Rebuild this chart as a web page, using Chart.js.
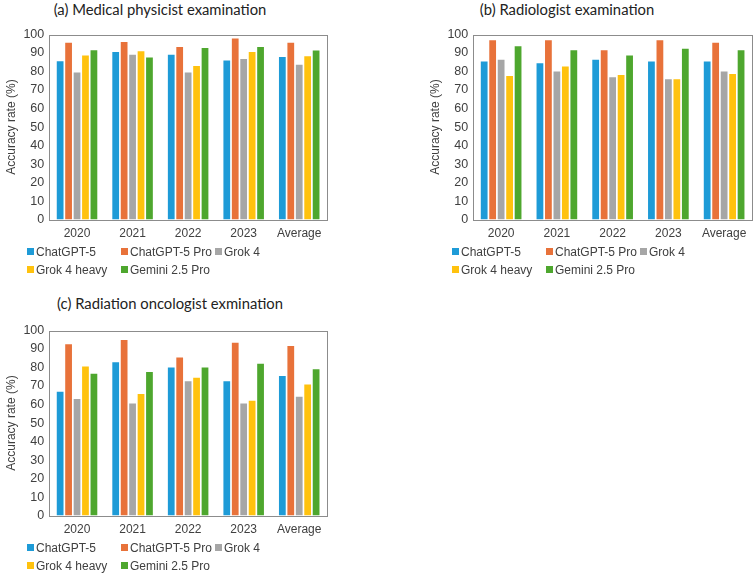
<!DOCTYPE html>
<html>
<head>
<meta charset="utf-8">
<script src="https://cdn.jsdelivr.net/npm/chart.js@4.4.1/dist/chart.umd.min.js"></script>
<style>
  body { margin: 0; background: #fff; width: 755px; height: 575px; overflow: hidden; position: relative; font-family: "Liberation Sans", Arial, sans-serif; }
  canvas { position: absolute; }
  .title { position: absolute; font-family: "Lato", "Open Sans", sans-serif; font-size: 14.8px; color: #222; white-space: nowrap; transform: translateX(-50%); line-height: 18px; }
  .legend { position: absolute; display: grid; grid-template-columns: 94px 94px 94px; row-gap: 3px; font-size: 12px; color: #404040; }
  .legend span { display: flex; align-items: center; white-space: nowrap; height: 15px; }
  .legend i { display: inline-block; width: 7px; height: 7px; margin-right: 2px; }
</style>
</head>
<body>
<div class="title" style="left:160px; top:0px;">(a) Medical physicist examination</div>
<div class="title" style="left:567px; top:0px;">(b) Radiologist examination</div>
<div class="title" style="left:170px; top:294px;">(c) Radiation oncologist exmination</div>
<canvas id="chartA" width="340" height="226" style="left:0px; top:22px;"></canvas>
<canvas id="chartB" width="331" height="226" style="left:424px; top:22px;"></canvas>
<canvas id="chartC" width="340" height="226" style="left:0px; top:318px;"></canvas>
<div class="legend" id="legA" style="left:27px; top:244px;"></div>
<div class="legend" id="legB" style="left:452px; top:244px;"></div>
<div class="legend" id="legC" style="left:27px; top:540px;"></div>
<script>
const categories = ["2020", "2021", "2022", "2023", "Average"];
const models = ["ChatGPT-5", "ChatGPT-5 Pro", "Grok 4", "Grok 4 heavy", "Gemini 2.5 Pro"];
const colors = ["#1E9BD7", "#E8723A", "#A6A6A6", "#FFC20E", "#4EA72E"];
const yTicks = [0, 10, 20, 30, 40, 50, 60, 70, 80, 90, 100];

// (a) Medical physicist examination
const physicistGpt5 = [85.5, 90.5, 89, 86, 87.8];
const physicistGpt5Pro = [95.5, 96, 93.3, 97.8, 95.5];
const physicistGrok4 = [79.5, 89, 79.5, 86.8, 83.6];
const physicistGrokHeavy = [88.7, 91, 83, 90.5, 88.2];
const physicistGemini = [91.5, 87.6, 92.7, 93.3, 91.4];

// (b) Radiologist examination
const radiologistGpt5 = [85.4, 84.5, 86.3, 85.4, 85.4];
const radiologistGpt5Pro = [96.9, 96.9, 91.5, 96.9, 95.5];
const radiologistGrok4 = [86.3, 80, 76.9, 75.8, 80];
const radiologistGrokHeavy = [77.6, 82.7, 78.1, 75.8, 78.6];
const radiologistGemini = [93.6, 91.5, 88.7, 92.3, 91.5];

// (c) Radiation oncologist examination
const oncologistGpt5 = [66.9, 82.9, 80, 72.6, 75.4];
const oncologistGpt5Pro = [92.6, 94.9, 85.4, 93.4, 91.6];
const oncologistGrok4 = [63, 60.6, 72.6, 60.6, 64.2];
const oncologistGrokHeavy = [80.6, 65.7, 74.5, 62, 70.8];
const oncologistGemini = [76.7, 77.6, 80, 82.1, 79];

// draws the grey frame round the plot area
const frame = {
  id: "frame",
  afterDraw(chart) {
    const { ctx, chartArea: a } = chart;
    ctx.save();
    ctx.strokeStyle = "#8c8c8c";
    ctx.lineWidth = 1;
    ctx.strokeRect(Math.round(a.left) + 0.5, Math.round(a.top) + 0.5, Math.round(a.width), Math.round(a.height));
    ctx.restore();
  }
};

function makeChart(id, series, padRight) {
  new Chart(document.getElementById(id), {
    type: "bar",
    data: {
      labels: categories,
      datasets: series.map((vals, i) => ({
        label: models[i],
        data: vals,
        backgroundColor: colors[i],
        barPercentage: 0.8,
        categoryPercentage: 0.76
      }))
    },
    options: {
      responsive: false,
      animation: false,
      layout: { padding: { top: 7, right: padRight, left: 4, bottom: 0 } },
      plugins: { legend: { display: false }, tooltip: { enabled: false } },
      scales: {
        x: {
          grid: { display: false, drawTicks: false },
          border: { display: false },
          ticks: { color: "#404040", padding: 7, font: { family: "Liberation Sans", size: 12 } }
        },
        y: {
          min: 0,
          max: 100,
          afterBuildTicks(axis) { axis.ticks = yTicks.map(v => ({ value: v })); },
          grid: { display: false, drawTicks: false },
          border: { display: false },
          ticks: { color: "#404040", padding: 5, font: { family: "Liberation Sans", size: 12.5 } },
          title: { display: true, text: "Accuracy rate (%)", color: "#404040", padding: { top: 0, bottom: 0 }, font: { family: "Liberation Sans", size: 12 } }
        }
      }
    },
    plugins: [frame]
  });
}

function makeLegend(id) {
  const box = document.getElementById(id);
  models.forEach((m, i) => {
    const s = document.createElement("span");
    s.innerHTML = '<i style="background:' + colors[i] + '"></i>' + m;
    box.appendChild(s);
  });
}

makeChart("chartA", [physicistGpt5, physicistGpt5Pro, physicistGrok4, physicistGrokHeavy, physicistGemini], 13);
makeChart("chartB", [radiologistGpt5, radiologistGpt5Pro, radiologistGrok4, radiologistGrokHeavy, radiologistGemini], 3);
makeChart("chartC", [oncologistGpt5, oncologistGpt5Pro, oncologistGrok4, oncologistGrokHeavy, oncologistGemini], 13);
["legA", "legB", "legC"].forEach(makeLegend);
</script>
</body>
</html>
